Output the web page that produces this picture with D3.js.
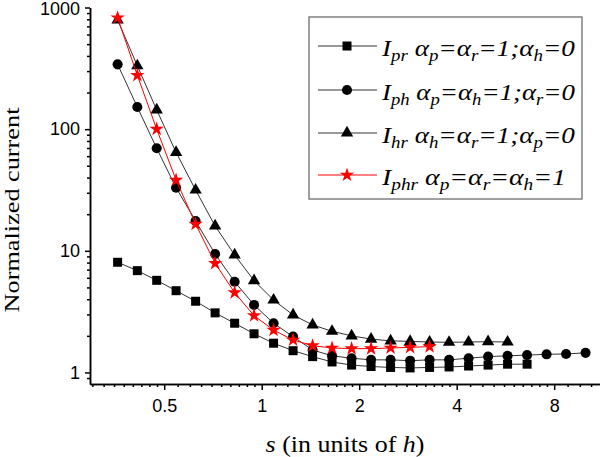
<!DOCTYPE html>
<meta charset="utf-8">
<html>
  <style>
    body, html { margin: 0; background: #fff; }
    .axis path, .axis line { stroke: #000; stroke-width: 1.5; }
    .axis text { font-family: "Liberation Sans", Arial, sans-serif; font-size: 18px; fill: #000; }
    .serif { font-family: "Liberation Serif", "Times New Roman", serif; fill: #000; }
  </style>
  <body>
    <svg id="chart"></svg>
    <script src="https://cdn.jsdelivr.net/npm/d3@7"></script>
    <script>
// separation values (s in units of h)
var sValues = [0.359, 0.413, 0.474, 0.544, 0.625, 0.718, 0.825, 0.947, 1.088, 1.25,
  1.436, 1.649, 1.895, 2.176, 2.5, 2.872, 3.299, 3.789, 4.353, 5.0,
  5.743, 6.598, 7.579, 8.706, 10.0]

var Ipr = [8.05, 6.87, 5.72, 4.70, 3.85, 3.09, 2.54, 2.08, 1.74, 1.51, 1.35, 1.22,
  1.15, 1.12, 1.10, 1.09, 1.10, 1.11, 1.13, 1.15, 1.17, 1.17]
var Iph = [341, 152, 69.6, 33.0, 17.6, 9.42, 5.57, 3.59, 2.54, 1.97, 1.53, 1.37,
  1.31, 1.27, 1.27, 1.25, 1.27, 1.27, 1.31, 1.35, 1.37, 1.39, 1.41, 1.42, 1.45]
var Ihr = [790, 332, 144, 64.5, 31.6, 16.0, 9.24, 5.69, 3.94, 2.97, 2.46, 2.18,
  2.0, 1.88, 1.82, 1.80, 1.78, 1.77, 1.78, 1.79, 1.78]
var Iphr = [824, 277, 100, 38.2, 16.6, 7.9, 4.53, 2.93, 2.23, 1.85, 1.66, 1.59,
  1.57, 1.57, 1.59, 1.61, 1.63]

var xTicks = [0.5, 1, 2, 4, 8]
var yTicks = [1, 10, 100, 1000]

// legend labels: [main, subscript, main, subscript, ...]
var labelPr = ['I', 'pr', ' \u03b1', 'p', '=\u03b1', 'r', '=1;\u03b1', 'h', '=0']
var labelPh = ['I', 'ph', ' \u03b1', 'p', '=\u03b1', 'h', '=1;\u03b1', 'r', '=0']
var labelHr = ['I', 'hr', ' \u03b1', 'h', '=\u03b1', 'r', '=1;\u03b1', 'p', '=0']
var labelPhr = ['I', 'phr', ' \u03b1', 'p', '=\u03b1', 'r', '=\u03b1', 'h', '=1']

var w = 600, h = 457
  , svg = d3.select('#chart').attr('width', w).attr('height', h)
  , x = d3.scaleLog().base(2).domain([0.295, 11.08]).range([90, 600])
  , y = d3.scaleLog().domain([0.804, 1000]).range([384, 7.5])

var series = [
  { vals: Ipr, sym: d3.symbolSquare, size: 81, color: '#000', line: '#333', label: labelPr },
  { vals: Iph, sym: d3.symbolCircle, size: 80, color: '#000', line: '#333', label: labelPh },
  { vals: Ihr, sym: d3.symbolTriangle, size: 66, color: '#000', line: '#333', label: labelHr },
  { vals: Iphr, sym: d3.symbolStar, size: 64, color: '#ff0000', line: '#ff0000', label: labelPhr }
]

// minor ticks
var xMinor = []
;[0.25, 0.5, 1, 2, 4, 8].forEach(function(b){
  for (var i = 1; i < 10; i++) {
    var v = b * (1 + i / 10)
    if (v >= x.domain()[0] && v <= x.domain()[1]) xMinor.push(v)
  }
})
var yMinor = []
;[0.1, 1, 10, 100].forEach(function(b){
  for (var i = 2; i < 10; i++) {
    var v = b * i
    if (v >= y.domain()[0] && v <= y.domain()[1]) yMinor.push(v)
  }
})

svg.append('g').attr('class', 'axis').attr('transform', 'translate(0,384)')
  .call(d3.axisBottom(x).tickValues(xMinor).tickSize(3).tickSizeOuter(0).tickFormat(''))
svg.append('g').attr('class', 'axis').attr('transform', 'translate(0,384)')
  .call(d3.axisBottom(x).tickValues(xTicks).tickSize(6).tickSizeOuter(0).tickPadding(9)
    .tickFormat(function(d){ return String(d) }))
svg.append('g').attr('class', 'axis').attr('transform', 'translate(90,0)')
  .call(d3.axisLeft(y).tickValues(yMinor).tickSize(3).tickSizeOuter(0).tickFormat(''))
svg.append('g').attr('class', 'axis').attr('transform', 'translate(90,0)')
  .call(d3.axisLeft(y).tickValues(yTicks).tickSize(5).tickSizeOuter(0).tickPadding(5)
    .tickFormat(function(d){ return String(d) }))
svg.selectAll('.axis text').attr('font-size', null).attr('font-family', null)
// keep the top label inside the frame
svg.selectAll('.axis text').filter(function(d){ return d === 1000 }).attr('dy', '0.38em')

// series
var line = d3.line()
  .x(function(d){ return x(d[0]) })
  .y(function(d){ return y(d[1]) })

series.forEach(function(s){
  var pts = s.vals.map(function(v, i){ return [sValues[i], v] })
  var g = svg.append('g')
  g.append('path').attr('d', line(pts))
    .attr('fill', 'none').attr('stroke', s.line).attr('stroke-width', 1)
  g.selectAll('path.m').data(pts).enter().append('path').attr('class', 'm')
    .attr('d', d3.symbol().type(s.sym).size(s.size))
    .attr('transform', function(d){ return 'translate(' + x(d[0]) + ',' + y(d[1]) + ')' })
    .attr('fill', s.color)
})

// legend
var leg = svg.append('g')
leg.append('rect').attr('x', 309).attr('y', 17).attr('width', 273).attr('height', 182)
  .attr('fill', '#fff').attr('stroke', '#808080').attr('stroke-width', 1.5)
var rowY = [46, 90, 133, 175]
series.forEach(function(s, i){
  var cy = rowY[i]
  leg.append('line').attr('x1', 318).attr('x2', 377).attr('y1', cy).attr('y2', cy)
    .attr('stroke', s.line).attr('stroke-width', 1)
  leg.append('path').attr('d', d3.symbol().type(s.sym).size(s.size))
    .attr('transform', 'translate(347,' + cy + ')').attr('fill', s.color)
  var t = leg.append('text').attr('class', 'serif').attr('font-style', 'italic')
    .attr('font-size', 23)
  s.label.forEach(function(part, j){
    var ts = t.append('tspan').text(part)
    if (j % 2 === 1) ts.attr('font-size', 16).attr('dy', 5)
    else if (j > 0) ts.attr('dy', -5)
  })
  var bw = t.node().getComputedTextLength()
  var target = i === 3 ? 184 : 193
  t.attr('transform', 'translate(382,' + (cy + 10) + ') scale(' + (target / bw) + ',1)')
})

// axis titles
var xt = svg.append('text').attr('class', 'serif').attr('font-size', 23)
xt.append('tspan').attr('font-style', 'italic').text('s')
xt.append('tspan').text(' (in units of ')
xt.append('tspan').attr('font-style', 'italic').text('h')
xt.append('tspan').text(')')
var xw = xt.node().getComputedTextLength()
xt.attr('text-anchor', 'middle')
  .attr('transform', 'translate(345,452) scale(' + (159 / xw) + ',1)')

var yt = svg.append('text').attr('class', 'serif').attr('font-size', 21)
  .attr('text-anchor', 'middle').text('Normalized current')
var yw = yt.node().getComputedTextLength()
yt.attr('transform', 'translate(19,210) rotate(-90) scale(' + (205 / yw) + ',1)')
    </script>
  </body>
</html>
